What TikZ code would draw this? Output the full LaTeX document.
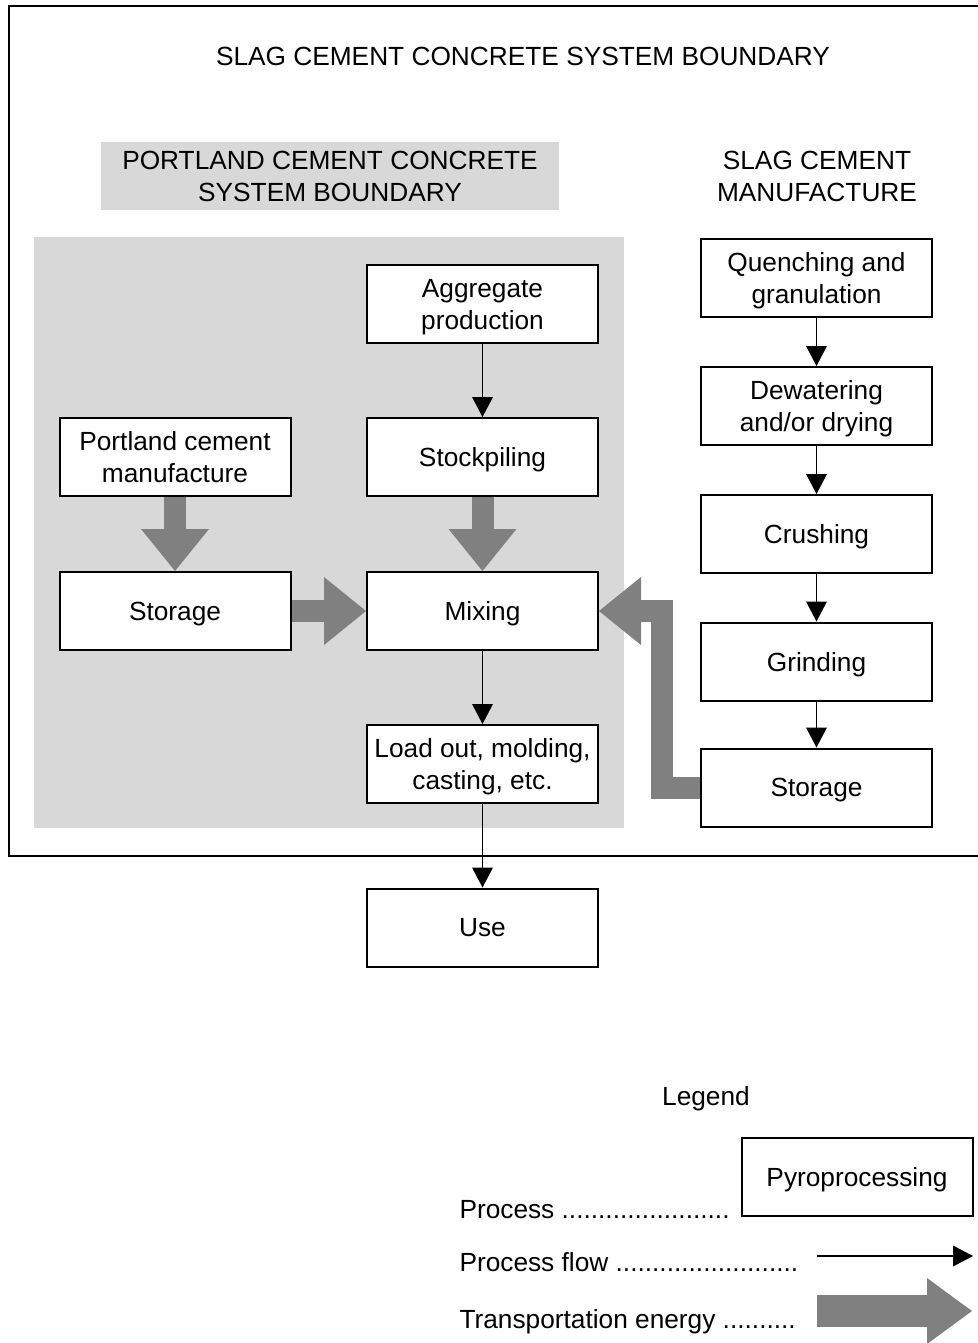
\documentclass[tikz,border=0pt]{standalone}
\usepackage{fontspec}
\setmainfont{Liberation Sans}
\usetikzlibrary{arrows.meta}
\definecolor{boundgray}{RGB}{216,216,216}
\definecolor{fatgray}{RGB}{128,128,128}
\tikzset{every picture/.style={line width=0.75pt},
  procbox/.style={draw, line width=1.5pt, fill=white, minimum width=173.25pt, minimum height=58.5pt, inner sep=1pt, text depth=0pt, align=center, font=\fontsize{19.7}{24}\selectfont},
  txt/.style={inner sep=0pt, align=center, font=\fontsize{19.7}{24}\selectfont},
  flow/.style={line width=1.2pt, -{Triangle[width=15.75pt,length=15pt,line width=0pt]}},
  fatflow/.style={draw=fatgray, line width=16.5pt, -{Triangle[width=51pt,length=31.5pt,line width=0pt]}}
}

\begin{document}
\begin{tikzpicture}[x=0.75pt,y=0.75pt,yscale=-1,xscale=1]
\useasboundingbox (0,0) rectangle (978,1343);

%Shape: Rectangle [slag boundary]
\draw [line width=1.5pt]  (978,6) -- (9,6) -- (9,856) -- (978,856) ;
%Shape: Rectangle [portland boundary]
\fill [boundgray]  (101,142) rectangle (559,210) ;
\fill [boundgray]  (34,237) rectangle (624,828) ;

% Text Node
\draw (523,56) node [txt] (slagtitle) {SLAG CEMENT CONCRETE SYSTEM BOUNDARY};
% Text Node
\draw (330,176) node [txt] (pcctitle) {PORTLAND CEMENT CONCRETE\\SYSTEM BOUNDARY};
% Text Node
\draw (817,176) node [txt] (scmtitle) {SLAG CEMENT\\MANUFACTURE};

% Process Boxes
\draw (482.5,304) node [procbox] (agg) {Aggregate\\production};
\draw (482.5,457) node [procbox] (stock) {Stockpiling};
\draw (175,457) node [procbox] (pcm) {Portland cement\\manufacture};
\draw (175,611) node [procbox] (storpc) {Storage};
\draw (482.5,611) node [procbox] (mix) {Mixing};
\draw (482.5,764) node [procbox] (load) {Load out, molding,\\casting, etc.};
\draw (482.5,927.5) node [procbox] (use) {Use};
\draw (816.5,278) node [procbox] (quench) {Quenching and\\granulation};
\draw (816.5,406) node [procbox] (dewater) {Dewatering\\and/or drying};
\draw (816.5,534) node [procbox] (crush) {Crushing};
\draw (816.5,661.5) node [procbox] (grind) {Grinding};
\draw (816.5,787.5) node [procbox] (storslag) {Storage};

%Straight Lines [process flow]
\draw [flow] (agg) -- (stock) ;
\draw [flow] (mix) -- (load) ;
\draw [flow] (load) -- (use) ;
\draw [flow] (quench) -- (dewater) ;
\draw [flow] (dewater) -- (crush) ;
\draw [flow] (crush) -- (grind) ;
\draw [flow] (grind) -- (storslag) ;

%Straight Lines [transportation energy]
\coordinate (retbend) at (661.5,611);
\draw [fatflow] (pcm) -- (storpc) ;
\draw [fatflow] (stock) -- (mix) ;
\draw [fatflow] (storpc) -- (mix) ;
\draw [fatflow] (storslag.west) -| (retbend) -- (mix.east) ;

% Legend
\draw (706,1099) node [txt] (legend) {Legend};
\draw (857,1176.5) node [procbox] (pyro) {Pyroprocessing};
\draw (459,1210) node [txt, anchor=west] (lgproc) {Process .......................};
\draw (459,1262) node [txt, anchor=west] (lgflow) {Process flow .........................};
\draw (459,1322) node [txt, anchor=west] (lgfat) {Transportation energy ..........};
\coordinate (flowA) at (817,1256);
\coordinate (flowB) at (973,1256);
\draw [flow] (flowA) -- (flowB) ;
\coordinate (fatA) at (817,1311);
\coordinate (fatB) at (972,1311);
\draw [fatflow, line width=24pt, -{Triangle[width=49.5pt,length=33.75pt,line width=0pt]}] (fatA) -- (fatB) ;

\end{tikzpicture}
\end{document}
